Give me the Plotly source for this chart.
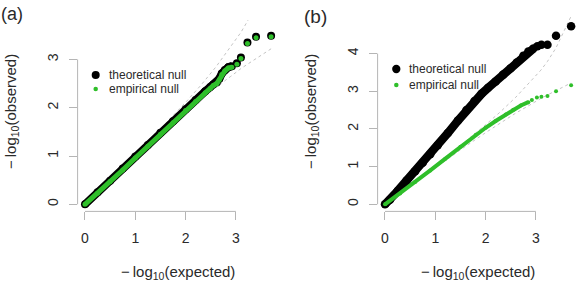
import plotly.graph_objects as go

# ---------------- data ----------------
# panel (a)
a_theo_dense_x = [0.0, 0.25, 0.5, 0.75, 1.0, 1.25, 1.5, 1.75, 2.0, 2.2, 2.39, 2.49, 2.55, 2.62, 2.67, 2.72, 2.78, 2.85, 2.92]
a_theo_dense_y = [0.0, 0.25, 0.49, 0.74, 0.99, 1.23, 1.48, 1.72, 1.97, 2.16, 2.34, 2.43, 2.48, 2.52, 2.60, 2.71, 2.78, 2.84, 2.86]
a_theo_top_x = [3.02, 3.10, 3.23, 3.40, 3.70]
a_theo_top_y = [2.92, 3.04, 3.35, 3.47, 3.49]
a_emp_dense_x = [0.0, 0.25, 0.5, 0.75, 1.0, 1.25, 1.5, 1.75, 2.0, 2.2, 2.39, 2.49, 2.55, 2.62, 2.67, 2.72, 2.78, 2.85, 2.92]
a_emp_dense_y = [0.0, 0.23, 0.47, 0.71, 0.96, 1.20, 1.45, 1.69, 1.94, 2.13, 2.31, 2.40, 2.46, 2.50, 2.58, 2.69, 2.76, 2.82, 2.84]
a_emp_top_x = [3.02, 3.10, 3.23, 3.40, 3.70]
a_emp_top_y = [2.90, 3.02, 3.33, 3.45, 3.47]

# panel (b)
b_theo_dense_x = [0.0, 0.1, 0.25, 0.43, 0.6, 0.75, 0.9, 1.05, 1.25, 1.45, 1.62, 1.78, 1.92, 2.05, 2.2, 2.35, 2.5, 2.62, 2.75, 2.85, 2.95]
b_theo_dense_y = [0.0, 0.12, 0.35, 0.63, 0.88, 1.10, 1.33, 1.57, 1.89, 2.22, 2.50, 2.74, 2.93, 3.09, 3.26, 3.44, 3.61, 3.76, 3.94, 4.05, 4.13]
b_theo_top_x = [3.03, 3.11, 3.23, 3.40, 3.70]
b_theo_top_y = [4.19, 4.23, 4.23, 4.47, 4.72]
b_emp_dense_x = [0.0, 0.3, 0.6, 0.9, 1.2, 1.5, 1.8, 2.0, 2.2, 2.4, 2.55, 2.7, 2.85]
b_emp_dense_y = [0.0, 0.29, 0.59, 0.90, 1.21, 1.53, 1.84, 2.03, 2.21, 2.38, 2.51, 2.62, 2.71]
b_emp_top_x = [2.92, 3.02, 3.11, 3.23, 3.40, 3.70]
b_emp_top_y = [2.77, 2.83, 2.85, 2.87, 3.00, 3.16]

# confidence band (same in both panels)
band_x = [0.0, 0.5, 1.0, 1.5, 2.0, 2.3, 2.6, 2.9, 3.0, 3.1, 3.23, 3.4, 3.7]
band_upper = [0.0, 0.515, 1.033, 1.56, 2.11, 2.46, 2.84, 3.27, 3.40, 3.56, 3.79, 4.15, 4.99]
band_lower = [0.0, 0.486, 0.969, 1.445, 1.90, 2.17, 2.42, 2.65, 2.74, 2.81, 2.90, 3.02, 3.22]

x_ticks = [0, 1, 2, 3]
a_y_ticks = [0, 1, 2, 3]
b_y_ticks = [0, 1, 2, 3, 4]
legend_labels = ["theoretical null", "empirical null"]
panel_labels = ["(a)", "(b)"]

# ---------------- styling ----------------
W, H = 578, 291
BLACK = "#000000"
GREEN = "#2fbf2a"
GRAY = "#c4c4c4"
AXC = "#b5b5b5"
TXT = "#2a2a2a"
FONT = "Liberation Sans, Arial, sans-serif"

fig = go.Figure()

def add_panel(xa, ya, tdx, tdy, ttx, tty, edx, edy, etx, ety, bsize, gsize):
    fig.add_trace(go.Scatter(x=band_x, y=band_upper, mode="lines", xaxis=xa, yaxis=ya,
                             line=dict(color=GRAY, width=1, dash="dot"), hoverinfo="skip"))
    fig.add_trace(go.Scatter(x=band_x, y=band_lower, mode="lines", xaxis=xa, yaxis=ya,
                             line=dict(color=GRAY, width=1, dash="dot"), hoverinfo="skip"))
    fig.add_trace(go.Scatter(x=tdx, y=tdy, mode="lines+markers", xaxis=xa, yaxis=ya,
                             line=dict(color=BLACK, width=bsize),
                             marker=dict(color=BLACK, size=bsize, line=dict(width=0))))
    fig.add_trace(go.Scatter(x=ttx, y=tty, mode="markers", xaxis=xa, yaxis=ya,
                             marker=dict(color=BLACK, size=bsize, line=dict(width=0))))
    fig.add_trace(go.Scatter(x=edx, y=edy, mode="lines+markers", xaxis=xa, yaxis=ya,
                             line=dict(color=GREEN, width=gsize),
                             marker=dict(color=GREEN, size=gsize, line=dict(width=0))))
    fig.add_trace(go.Scatter(x=etx, y=ety, mode="markers", xaxis=xa, yaxis=ya,
                             marker=dict(color=GREEN, size=gsize, line=dict(width=0))))

add_panel("x", "y", a_theo_dense_x, a_theo_dense_y, a_theo_top_x, a_theo_top_y,
          a_emp_dense_x, a_emp_dense_y, a_emp_top_x, a_emp_top_y, 8, 5)
add_panel("x2", "y2", b_theo_dense_x, b_theo_dense_y, b_theo_top_x, b_theo_top_y,
          b_emp_dense_x, b_emp_dense_y, b_emp_top_x, b_emp_top_y, 8.5, 4)

def px_x(p):
    return p / W

def px_y(p):
    return 1 - p / H

axis_common = dict(showgrid=False, zeroline=False, showline=False, ticks="outside",
                   ticklen=8, tickwidth=1, tickcolor=AXC,
                   tickfont=dict(family=FONT, size=14, color=TXT))

# plot regions in pixels: a: x 77.6..278.6, y 20..211.4 ; b: x 377.6..578, y 12..211.4
fig.update_layout(
    width=W, height=H, margin=dict(l=0, r=0, t=0, b=0),
    paper_bgcolor="white", plot_bgcolor="white", showlegend=False,
    font=dict(family=FONT, color=TXT),
    xaxis=dict(domain=[px_x(77.6), px_x(278.6)], range=[-0.147, 3.849], tickvals=x_ticks,
               anchor="y", ticklabelstandoff=6, **axis_common),
    yaxis=dict(domain=[px_y(211.4), px_y(20)], range=[-0.147, 3.816], tickvals=a_y_ticks,
               anchor="x", tickangle=-90, ticklabelstandoff=5, **axis_common),
    xaxis2=dict(domain=[px_x(377.6), 1.0], range=[-0.147, 3.837], tickvals=x_ticks,
                anchor="y2", ticklabelstandoff=6, **axis_common),
    yaxis2=dict(domain=[px_y(211.4), px_y(12)], range=[-0.188, 5.101], tickvals=b_y_ticks,
                anchor="x2", tickangle=-90, ticklabelstandoff=5, **axis_common),
)

# R-style axis lines spanning first to last tick
shapes = []
for xa, ya, yt in (("x", "y", a_y_ticks), ("x2", "y2", b_y_ticks)):
    shapes.append(dict(type="line", xref=xa, yref=ya + " domain", x0=x_ticks[0], x1=x_ticks[-1],
                       y0=0, y1=0, line=dict(color=AXC, width=1)))
    shapes.append(dict(type="line", xref=xa + " domain", yref=ya, x0=0, x1=0,
                       y0=yt[0], y1=yt[-1], line=dict(color=AXC, width=1)))

# legend symbols
def dot(cx, cy, d, color):
    r = d / 2
    return dict(type="circle", xref="paper", yref="paper", xsizemode="pixel", ysizemode="pixel",
                xanchor=px_x(cx), yanchor=px_y(cy), x0=-r, x1=r, y0=-r, y1=r,
                fillcolor=color, line=dict(width=0))

shapes += [dot(95.7, 75, 8, BLACK), dot(95.7, 89, 4.5, GREEN),
           dot(396.3, 69, 8.3, BLACK), dot(396.3, 85, 4.5, GREEN)]
fig.update_layout(shapes=shapes)

ann = []
def text(t, cx, cy, size, xanchor="center", angle=0):
    ann.append(dict(text=t, x=px_x(cx), y=px_y(cy), xref="paper", yref="paper",
                    xanchor=xanchor, yanchor="middle", showarrow=False, textangle=angle,
                    font=dict(family=FONT, size=size, color=TXT)))

text(legend_labels[0], 106.7, 75, 12, "left")
text(legend_labels[1], 106.7, 89, 12, "left")
text(legend_labels[0], 407.3, 69, 12, "left")
text(legend_labels[1], 407.3, 85, 12, "left")

xt = "\u2212\u2009log<sub>10</sub>(expected)"
yt = "\u2212\u2009log<sub>10</sub>(observed)"
text(xt, 177.5, 272, 15)
text(xt, 478, 272, 15)
text(yt, 12, 112, 15, angle=-90)
text(yt, 312, 112, 15, angle=-90)

text(panel_labels[0], 11.5, 14, 18)
text(panel_labels[1], 315, 16, 19)

fig.update_layout(annotations=ann)

fig.write_html("out.html")
